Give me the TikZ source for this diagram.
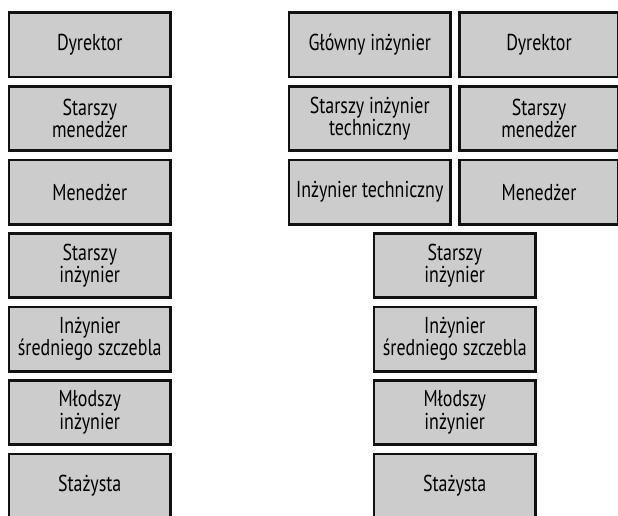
\documentclass[tikz,border=0pt]{standalone}
\usepackage{fontspec}
\setmainfont{PT Sans}[FakeStretch=0.78]
\definecolor{boxgray}{HTML}{CCCCCC}
\definecolor{boxline}{HTML}{111111}
\tikzset{
  rank/.style={draw=boxline, line width=2.6pt, fill=boxgray,
    minimum width=161.9pt, minimum height=64.4pt, inner sep=0pt,
    align=center, font=\fontsize{23}{22.5}\selectfont},
  rankr/.style={rank, minimum width=159.4pt}
}
\begin{document}
\begin{tikzpicture}[x=1pt,y=-1pt]
\useasboundingbox (0,0) rectangle (618,516);
\clip (0,0) rectangle (618,516);
% left ladder
\node[rank] (l1) at (89.75,45) {Dyrektor};
\node[rank] (l2) at (89.75,118.5) {Starszy\\menedżer};
\node[rank] (l3) at (89.75,192) {Menedżer};
\node[rank] (l4) at (89.75,265.5) {Starszy\\inżynier};
\node[rank] (l5) at (89.75,339) {Inżynier\\średniego szczebla};
\node[rank] (l6) at (89.75,412.5) {Młodszy\\inżynier};
\node[rank] (l7) at (89.75,486) {Stażysta};
% right ladder, technical track
\node[rank] (t1) at (369.75,45) {Główny inżynier};
\node[rank] (t2) at (369.75,118.5) {Starszy inżynier\\techniczny};
\node[rank] (t3) at (369.75,192) {Inżynier techniczny};
% right ladder, management track
\node[rankr] (m1) at (539,45) {Dyrektor};
\node[rankr] (m2) at (539,118.5) {Starszy\\menedżer};
\node[rankr] (m3) at (539,192) {Menedżer};
% right ladder, shared
\node[rank] (r4) at (454.75,265.5) {Starszy\\inżynier};
\node[rank] (r5) at (454.75,339) {Inżynier\\średniego szczebla};
\node[rank] (r6) at (454.75,412.5) {Młodszy\\inżynier};
\node[rank] (r7) at (454.75,486) {Stażysta};
\end{tikzpicture}
\end{document}
